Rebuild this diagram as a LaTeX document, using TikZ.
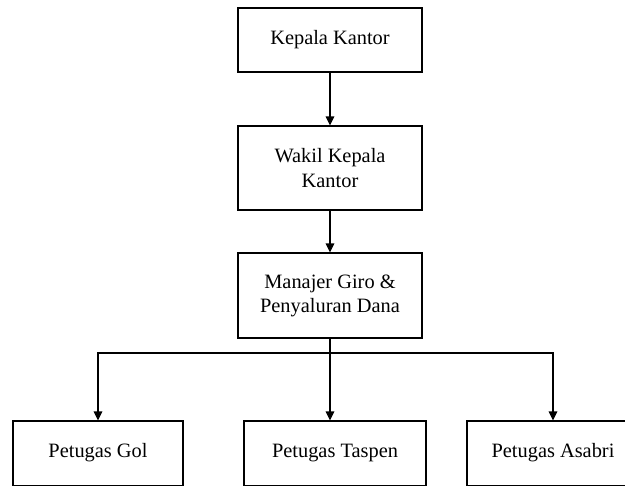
\documentclass[tikz,border=0pt]{standalone}
\usepackage{fontspec}
\setmainfont{Liberation Serif}
\usepackage{tikz}
\usetikzlibrary{arrows.meta}

\begin{document}
\begin{tikzpicture}[x=0.02cm, y=-0.02cm]
        \tikzstyle{every node}=[draw, line width=0.6pt, align=center, inner sep=2pt,
            font=\fontsize{11.6}{13.7}\selectfont]
        \tikzstyle{staff}=[minimum height=1.30cm, text height=1.6ex, text depth=0.5ex]
        \tikzstyle{arr}=[line width=0.6pt, -{Triangle[length=1.8mm, width=1.7mm]}]

        \useasboundingbox (0,0) rectangle (625,486);

        \node (kepala)  [minimum width=3.68cm, minimum height=1.28cm] at (330,40)    {Kepala Kantor};
        \node (wakil)   [minimum width=3.68cm, minimum height=1.68cm] at (330,168)   {Wakil Kepala\\Kantor};
        \node (manajer) [minimum width=3.68cm, minimum height=1.70cm] at (330,295.5) {Manajer Giro \&\\Penyaluran Dana};

        \node (gol)     [staff, minimum width=3.40cm] at (98,453.5)  {Petugas Gol};
        \node (taspen)  [staff, minimum width=3.64cm] at (335,453.5) {Petugas Taspen};
        \node (asabri)  [staff, minimum width=3.44cm] at (553,453.5) {Petugas Asabri};

        \coordinate (split) at (330,353);

        \draw[arr] (kepala) -- (wakil);
        \draw[arr] (wakil) -- (manajer);
        \draw[arr] (manajer.south) -- (manajer.south |- taspen.north);
        \draw[arr] (split) -| (gol.north);
        \draw[arr] (split) -| (asabri.north);

    \end{tikzpicture}
\end{document}
